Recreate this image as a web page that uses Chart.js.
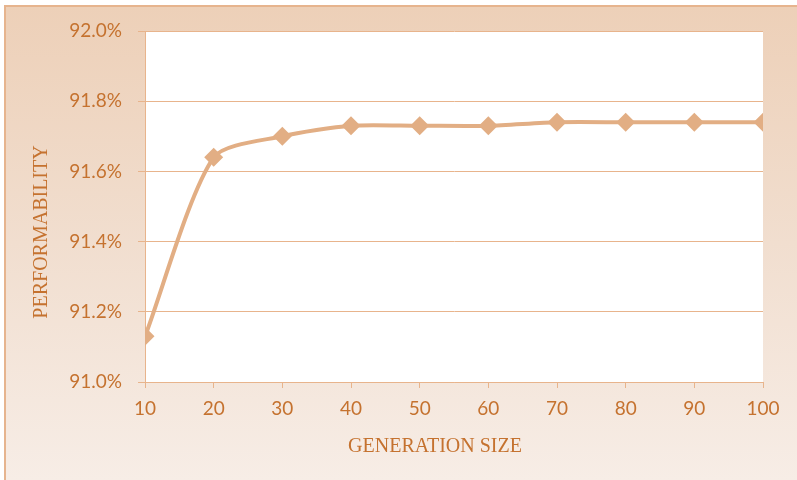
<!DOCTYPE html>
<html>
<head>
<meta charset="utf-8">
<script src="https://cdn.jsdelivr.net/npm/chart.js@4"></script>
<style>
  html, body { margin: 0; padding: 0; background: #fff; }
  #fundo {
    position: absolute; left: 4px; top: 5px; width: 791px; height: 473px;
    border-left: 2px solid #E6B48E; border-top: 2px solid #E6B48E;
    background: linear-gradient(to bottom, #EDD0B8 0%, #F1DECF 50%, #F7EDE6 100%);
  }
  #grafico { position: absolute; left: 0; top: 0; }
</style>
</head>
<body>
<div id="fundo"></div>
<canvas id="grafico" width="797" height="480"></canvas>
<script>
//--------------------------------------------------
// DADOS
//--------------------------------------------------
const geracoes = [10, 20, 30, 40, 50, 60, 70, 80, 90, 100];
const performabilidade = [91.13, 91.64, 91.70, 91.73, 91.73, 91.73, 91.74, 91.74, 91.74, 91.74];
const ticksY = [91.0, 91.2, 91.4, 91.6, 91.8, 92.0];

const corTexto = "#C5722F";
const corGrade = "#E8B48C";
const corLinha = "#E2AE84";

//--------------------------------------------------
// FUNDO BRANCO DA ÁREA DO GRÁFICO + TÍTULOS DOS EIXOS
//--------------------------------------------------
const areaBranca = {
    id: "areaBranca",
    beforeDraw(chart) {
        const { ctx, chartArea: a } = chart;
        ctx.save();
        ctx.fillStyle = "#fff";
        ctx.fillRect(a.left, a.top, a.right - a.left, a.bottom - a.top);
        ctx.restore();
    },
    afterDraw(chart) {
        const ctx = chart.ctx;
        ctx.save();
        ctx.fillStyle = corTexto;
        ctx.font = '20px "Liberation Serif"';
        ctx.textAlign = "center";
        ctx.textBaseline = "middle";
        ctx.fillText("GENERATION SIZE", 435, 447);
        ctx.translate(42, 232);
        ctx.rotate(-Math.PI / 2);
        ctx.fillText("PERFORMABILITY", 0, 0);
        ctx.restore();
    }
};

const ctx = document.getElementById("grafico");

new Chart(ctx, {
    type: "line",
    data: {
        datasets: [{
            data: geracoes.map((g, i) => ({ x: g, y: performabilidade[i] })),
            borderColor: corLinha,
            backgroundColor: corLinha,
            borderWidth: 4,
            tension: 0.25,
            pointStyle: "rectRot",
            pointRadius: 9.5,
            pointBorderWidth: 0
        }]
    },
    options: {
        responsive: false,
        animation: false,
        layout: { padding: { left: 0, top: 31, right: 34, bottom: 0 } },
        plugins: { legend: { display: false }, tooltip: { enabled: false } },
        scales: {
            x: {
                type: "linear",
                min: 10, max: 100,
                afterFit: s => { s.height = 98; },
                afterBuildTicks: s => { s.ticks = geracoes.map(v => ({ value: v })); },
                border: { color: corGrade, width: 1 },
                grid: { drawOnChartArea: false, drawTicks: true, tickLength: 6, color: corGrade },
                ticks: { color: corTexto, font: { family: "Lato", size: 19 }, padding: 9, maxRotation: 0 }
            },
            y: {
                min: 91.0, max: 92.0,
                afterFit: s => { s.width = 145; },
                afterBuildTicks: s => { s.ticks = ticksY.map(v => ({ value: v })); },
                border: { color: corGrade, width: 1 },
                grid: { color: corGrade, tickLength: 7 },
                ticks: {
                    color: corTexto, font: { family: "Lato", size: 19 }, padding: 16,
                    callback: v => v.toFixed(1) + "%"
                }
            }
        }
    },
    plugins: [areaBranca]
});
</script>
</body>
</html>
